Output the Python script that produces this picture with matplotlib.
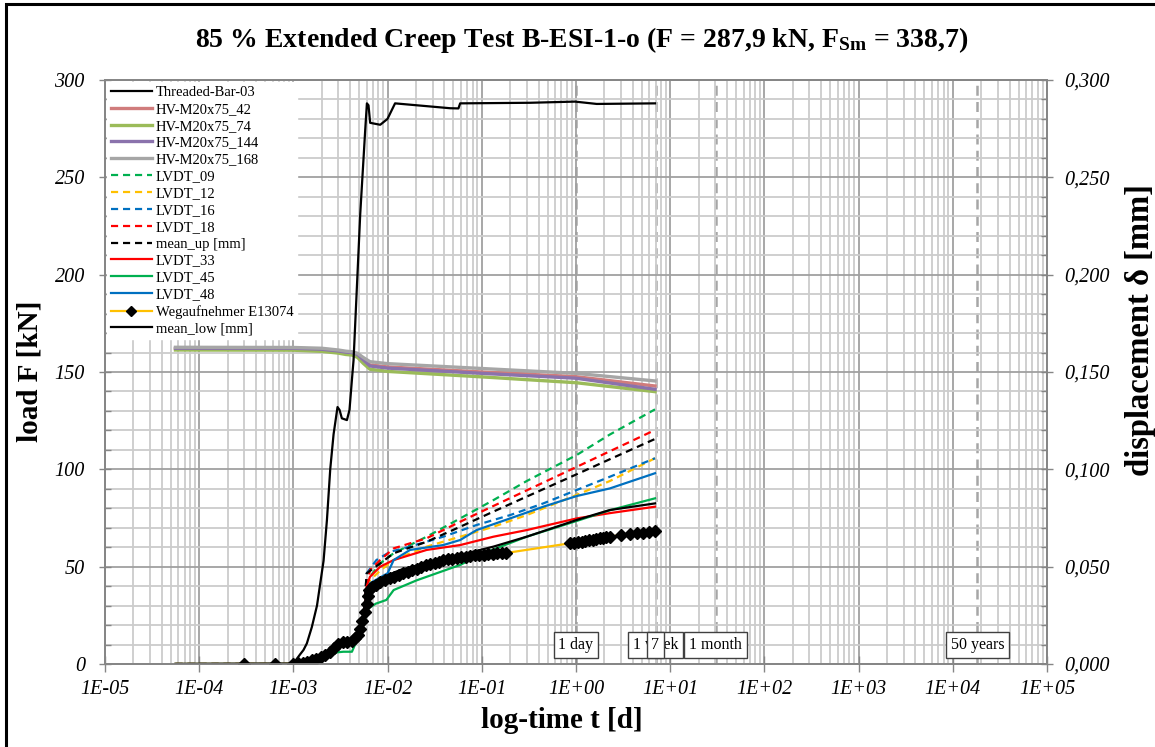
import numpy as np
import matplotlib
matplotlib.use("Agg")
import matplotlib.pyplot as plt
from matplotlib.ticker import FixedLocator, MultipleLocator, FuncFormatter, NullFormatter
from matplotlib.patches import Rectangle

plt.rcParams['font.family'] = ['Liberation Serif', 'DejaVu Serif']
plt.rcParams['mathtext.fontset'] = 'custom'
plt.rcParams['mathtext.rm'] = 'Liberation Serif'
plt.rcParams['mathtext.bf'] = 'Liberation Serif:bold'
plt.rcParams['mathtext.it'] = 'Liberation Serif:italic'

# ---------------- load [kN] ----------------
bar_t = [5.6e-5, 1.0e-3, 1.18e-3, 1.28e-3, 1.39e-3, 1.57e-3, 1.78e-3, 2.09e-3, 2.27e-3,
         2.46e-3, 2.67e-3, 2.94e-3, 3.09e-3, 3.27e-3, 3.70e-3, 3.94e-3, 4.18e-3, 4.35e-3,
         5.12e-3, 5.78e-3, 6.03e-3, 6.27e-3, 6.53e-3, 8.35e-3, 9.97e-3, 1.20e-2, 4.61e-2,
         5.65e-2, 5.89e-2, 0.325, 0.976, 1.66, 6.9]
bar_F = [0.0, 0.3, 5.0, 7.2, 10.6, 19.0, 30.0, 53.0, 74.0, 100.0, 118.0, 132.0, 130.5,
         126.2, 125.3, 130.5, 146.0, 156.0, 231.0, 274.0, 288.0, 287.0, 278.0, 277.0,
         280.0, 288.0, 285.5, 285.4, 288.0, 288.3, 288.9, 287.7, 288.0]

hv_t = [5.6e-5, 1.0e-3, 2.0e-3, 3.0e-3, 3.6e-3, 4.2e-3, 4.8e-3, 5.5e-3, 6.5e-3, 1.0e-2,
        0.1, 1.0, 6.9]
hv_42 = [162.0, 162.0, 161.5, 160.6, 160.0, 159.8, 159.0, 156.5, 153.6, 152.6, 150.0, 147.6, 142.8]
hv_74 = [161.3, 161.2, 160.6, 159.7, 159.0, 158.7, 157.5, 154.5, 151.4, 150.3, 147.5, 144.5, 139.9]
hv_144 = [162.2, 162.2, 161.7, 160.8, 160.2, 160.0, 159.0, 156.3, 153.1, 152.0, 149.3, 146.8, 141.1]
hv_168 = [162.7, 162.6, 162.2, 161.3, 160.7, 160.4, 159.6, 157.5, 155.3, 154.3, 151.8, 149.3, 145.4]

# ---------------- displacement [mm] ----------------
# loading phase shared by the LVDTs
load_t = [5.6e-5, 1.0e-3, 1.4e-3, 1.9e-3, 2.4e-3, 2.9e-3, 3.3e-3, 3.9e-3, 4.4e-3, 5.0e-3, 5.6e-3]
load_d = [0.0, 0.0, 0.0012, 0.0034, 0.0062, 0.0100, 0.0112, 0.0115, 0.0130, 0.0170, 0.0260]

lvdt09_t = [6.0e-3, 6.5e-3, 8.35e-3, 1.16e-2, 2.6e-2, 5.9e-2, 0.133, 0.30, 1.02, 2.29, 6.9]
lvdt09_d = [0.0400, 0.0448, 0.0517, 0.0569, 0.0654, 0.0748, 0.0842, 0.0940, 0.1074, 0.1179, 0.1308]

lvdt12_t = [6.0e-3, 6.5e-3, 8.35e-3, 1.16e-2, 2.6e-2, 5.9e-2, 0.133, 0.30, 1.02, 2.29, 6.9]
lvdt12_d = [0.0380, 0.0430, 0.0480, 0.0534, 0.0603, 0.0654, 0.0705, 0.0765, 0.0869, 0.0940, 0.1057]

lvdt16_t = [6.0e-3, 7.6e-3, 1.07e-2, 1.73e-2, 3.9e-2, 8.8e-2, 0.20, 0.45, 1.02, 2.29, 6.9]
lvdt16_d = [0.0466, 0.0534, 0.0577, 0.0603, 0.0654, 0.0714, 0.0765, 0.0825, 0.0894, 0.0962, 0.1057]

lvdt18_t = [6.0e-3, 6.5e-3, 8.35e-3, 1.16e-2, 2.6e-2, 5.9e-2, 0.133, 0.30, 1.02, 2.29, 6.9]
lvdt18_d = [0.0400, 0.0483, 0.0534, 0.0594, 0.0646, 0.0731, 0.0812, 0.0892, 0.1013, 0.1093, 0.1202]

mean_up_t = [6.0e-3, 8.35e-3, 1.16e-2, 2.6e-2, 5.9e-2, 0.133, 0.30, 1.02, 2.29, 6.9]
mean_up_d = [0.0466, 0.0517, 0.0569, 0.0628, 0.0705, 0.0783, 0.0860, 0.0975, 0.1052, 0.1156]

lvdt33_t = [6.0e-3, 6.5e-3, 8.35e-3, 1.16e-2, 2.6e-2, 5.9e-2, 0.133, 0.30, 1.02, 2.29, 6.9]
lvdt33_d = [0.0400, 0.0448, 0.0500, 0.0534, 0.0586, 0.0611, 0.0654, 0.0688, 0.0748, 0.0775, 0.0808]

lvdt45_t = [5.6e-5, 1.0e-3, 1.4e-3, 1.9e-3, 2.4e-3, 2.9e-3, 3.4e-3, 4.18e-3, 5.1e-3, 6.27e-3,
            7.5e-3, 9.7e-3, 1.16e-2, 2.04e-2, 5.9e-2, 0.104, 0.30, 1.02, 2.29, 6.9]
lvdt45_d = [0.0, 0.0, 0.0008, 0.0025, 0.0045, 0.0060, 0.0063, 0.0063, 0.0158, 0.0286,
            0.0310, 0.0329, 0.0380, 0.0430, 0.0509, 0.0569, 0.0654, 0.0735, 0.0790, 0.0851]

lvdt48_t = [6.0e-3, 6.5e-3, 1.0e-2, 1.16e-2, 1.73e-2, 3.9e-2, 5.9e-2, 8.8e-2, 0.20, 0.45,
            1.02, 2.29, 6.9]
lvdt48_d = [0.0360, 0.0415, 0.0466, 0.0534, 0.0586, 0.0611, 0.0637, 0.0688, 0.0748, 0.0808,
            0.0863, 0.0902, 0.0980]

weg_t = [5.6e-5, 3.0e-4, 6.4e-4,
         1.00e-3, 1.12e-3, 1.25e-3, 1.40e-3, 1.56e-3, 1.74e-3, 1.94e-3, 2.17e-3, 2.42e-3,
         2.70e-3, 3.01e-3, 3.36e-3, 3.75e-3, 4.18e-3, 4.50e-3, 4.80e-3, 5.10e-3, 5.40e-3,
         5.70e-3, 6.00e-3, 6.20e-3, 6.40e-3, 6.80e-3, 7.50e-3, 8.40e-3, 9.40e-3, 1.05e-2,
         1.17e-2, 1.31e-2, 1.46e-2, 1.63e-2, 1.82e-2, 2.03e-2, 2.27e-2, 2.53e-2, 2.82e-2,
         3.15e-2, 3.51e-2, 3.92e-2, 4.37e-2, 4.88e-2, 5.44e-2, 6.07e-2, 6.77e-2, 7.56e-2,
         8.43e-2, 9.41e-2, 0.105, 0.117, 0.131, 0.146, 0.163, 0.180,
         0.86, 0.95, 1.05, 1.15, 1.26, 1.38, 1.50, 1.65, 1.80, 1.95, 2.10, 2.29,
         3.0, 3.7, 4.4, 5.2, 6.0, 6.9]
weg_d = [0.0, 0.0, 0.0,
         0.0, 0.0003, 0.0007, 0.0012, 0.0018, 0.0026, 0.0036, 0.0048, 0.0063,
         0.0083, 0.0104, 0.0112, 0.0113, 0.0120, 0.0133, 0.0150, 0.0180, 0.0220,
         0.0265, 0.0310, 0.0350, 0.0380, 0.0395, 0.0408, 0.0420, 0.0430, 0.0440,
         0.0449, 0.0458, 0.0466, 0.0474, 0.0482, 0.0490, 0.0498, 0.0506, 0.0513,
         0.0520, 0.0526, 0.0532, 0.0537, 0.0541, 0.0545, 0.0549, 0.0552, 0.0555,
         0.0558, 0.0560, 0.0562, 0.0564, 0.0566, 0.0568, 0.0569, 0.0570,
         0.0620, 0.0623, 0.0626, 0.0629, 0.0632, 0.0635, 0.0638, 0.0641, 0.0645, 0.0648, 0.0651, 0.0654,
         0.0663, 0.0668, 0.0671, 0.0674, 0.0679, 0.0682]

mean_low_t = [6.0e-3, 6.5e-3, 8.35e-3, 1.36e-2, 2.6e-2, 5.9e-2, 0.133, 0.30, 1.02, 2.29, 6.9]
mean_low_d = [0.0380, 0.0410, 0.0440, 0.0483, 0.0520, 0.0560, 0.0603, 0.0654, 0.0740, 0.0791, 0.0825]

# time marks [d]
mark_t = [1.0, 7.0, 30.4, 18262.5]
mark_labels = [(1.0, "1 day"), (7.0, "1 week"), (6.97, "7"), (30.4, "1 month"), (18262.5, "50 years")]

# axis ticks
decades = [1e-5, 1e-4, 1e-3, 1e-2, 1e-1, 1e0, 1e1, 1e2, 1e3, 1e4, 1e5]
decade_subs = [m * d for d in decades[:-1] for m in range(2, 10)]

# ---------------- figure ----------------
fig = plt.figure(figsize=(11.55, 7.47), dpi=100)
ax = fig.add_axes([105 / 1155, 1 - 664 / 747, (1047 - 105) / 1155, (664 - 80) / 747])
ax2 = ax.twinx()

axis_grey = '#868686'
ax.set_xscale('log')
ax.set_xlim(1e-5, 1e5)
ax.set_ylim(0, 300)
ax2.set_ylim(0, 0.3)

ax.xaxis.set_major_locator(FixedLocator(decades))
ax.xaxis.set_minor_locator(FixedLocator(decade_subs))
ax.xaxis.set_minor_formatter(NullFormatter())
ax.xaxis.set_major_formatter(FuncFormatter(lambda v, p: "1E{:+03d}".format(int(round(np.log10(v))))))
ax.yaxis.set_major_locator(MultipleLocator(50))
ax.yaxis.set_minor_locator(MultipleLocator(10))
ax.yaxis.set_major_formatter(FuncFormatter(lambda v, p: "{:d}".format(int(round(v)))))
ax2.yaxis.set_major_locator(MultipleLocator(0.05))
ax2.yaxis.set_minor_locator(MultipleLocator(0.01))
ax2.yaxis.set_major_formatter(FuncFormatter(lambda v, p: "{:.3f}".format(v).replace('.', ',')))

ax.grid(which='minor', color='#CCCCCC', lw=1.3, zorder=0)
ax.grid(which='major', color='#A0A0A0', lw=1.3, zorder=0)
ax.set_axisbelow(True)

for a in (ax, ax2):
    for s in a.spines.values():
        s.set_color(axis_grey)
        s.set_linewidth(1.3)

ax.tick_params(axis='y', which='major', direction='inout', length=9, width=1, color=axis_grey, pad=10)
ax.tick_params(axis='y', which='minor', direction='in', length=4, width=1, color=axis_grey)
ax.tick_params(axis='x', which='major', direction='inout', length=11, width=1, color=axis_grey, pad=6)
ax.tick_params(axis='x', which='minor', length=0)
ax2.tick_params(axis='y', which='major', direction='inout', length=9, width=1, color=axis_grey, pad=8)
ax2.tick_params(axis='y', which='minor', direction='in', length=4, width=1, color=axis_grey)
for lab in ax.get_xticklabels() + ax.get_yticklabels() + ax2.get_yticklabels():
    lab.set_fontsize(14.5)
    lab.set_fontstyle('italic')

# time marks
for t in mark_t:
    ax.axvline(t, color='#A6A6A6', lw=1.8, ls=(0, (4, 2.5)), zorder=0.5)

# load curves
h_bar, = ax.plot(bar_t, bar_F, color='black', lw=1.6, label='Threaded-Bar-03', zorder=3)
h42, = ax.plot(hv_t, hv_42, color='#D07C7C', lw=2.4, label='HV-M20x75_42', zorder=2)
h74, = ax.plot(hv_t, hv_74, color='#9BBB59', lw=2.4, label='HV-M20x75_74', zorder=2)
h144, = ax.plot(hv_t, hv_144, color='#8A72AC', lw=2.4, label='HV-M20x75_144', zorder=2)
h168, = ax.plot(hv_t, hv_168, color='#A6A6A6', lw=2.4, label='HV-M20x75_168', zorder=2)

# displacement curves
dash = (0, (3.2, 2.2))


def with_loading(t, d):
    return load_t + list(t), load_d + list(d)


h09, = ax2.plot(*with_loading(lvdt09_t, lvdt09_d), color='#00B050', lw=1.6, ls=dash, label='LVDT_09')
h12, = ax2.plot(*with_loading(lvdt12_t, lvdt12_d), color='#FFC000', lw=1.6, ls=dash, label='LVDT_12')
h16, = ax2.plot(*with_loading(lvdt16_t, lvdt16_d), color='#0070C0', lw=1.6, ls=dash, label='LVDT_16')
h18, = ax2.plot(*with_loading(lvdt18_t, lvdt18_d), color='#FF0000', lw=1.6, ls=dash, label='LVDT_18')
hmu, = ax2.plot(*with_loading(mean_up_t, mean_up_d), color='black', lw=1.6, ls=dash, label='mean_up [mm]')
h33, = ax2.plot(*with_loading(lvdt33_t, lvdt33_d), color='#FF0000', lw=1.6, label='LVDT_33')
h45, = ax2.plot(lvdt45_t, lvdt45_d, color='#00B050', lw=1.6, label='LVDT_45')
h48, = ax2.plot(*with_loading(lvdt48_t, lvdt48_d), color='#0070C0', lw=1.6, label='LVDT_48')
hweg, = ax2.plot(weg_t, weg_d, color='#FFC000', lw=1.6, marker='D', markersize=6.5,
                 markerfacecolor='black', markeredgecolor='black', markevery=slice(1, None),
                 label='Wegaufnehmer E13074')
hml, = ax2.plot(*with_loading(mean_low_t, mean_low_d), color='black', lw=1.6, label='mean_low [mm]')

# time mark labels
for t, txt in mark_labels:
    ax2.text(t, 0.0098, txt, ha='center', va='center', fontsize=11.5, zorder=6,
             bbox=dict(boxstyle='square,pad=0.3', fc='white', ec='#404040', lw=1.0))

handles = [h_bar, h42, h74, h144, h168, h09, h12, h16, h18, hmu, h33, h45, h48, hweg, hml]
leg = ax2.legend(handles=handles, loc='upper left', bbox_to_anchor=(0.0, 1.0),
                 fontsize=10.5, frameon=True, fancybox=False, framealpha=1,
                 edgecolor='white', facecolor='white', handlelength=2.8,
                 labelspacing=0.25, borderaxespad=0.15, borderpad=0.25, handletextpad=0.3)
leg.set_zorder(10)
for lh in leg.legend_handles:
    if lh.get_marker() == 'D':
        lh.set_markersize(5.5)

# labels and title
fig.text(30 / 1155, 1 - 371 / 747, 'load F [kN]', rotation=90, ha='center', va='center',
         fontsize=21, fontweight='bold')
fig.text(1141 / 1155, 1 - 330 / 747, 'displacement δ [mm]', rotation=90, ha='center', va='center',
         fontsize=23.5, fontweight='bold')
fig.text(562 / 1155, 1 - 721 / 747, 'log-time t [d]', ha='center', va='center',
         fontsize=21, fontweight='bold')
fig.text(582 / 1155, 1 - 40 / 747,
         r'85 % Extended Creep Test B-ESI-1-o (F = 287,9 kN, F$_{\mathbf{Sm}}$ = 338,7)',
         ha='center', va='center', fontsize=20, fontweight='bold')

# chart border
fig.patches.append(Rectangle((6 / 1155, -0.05), 1.2, 1.05 - 4 / 747, transform=fig.transFigure,
                             fill=False, ec='black', lw=2.2))

fig.savefig('out.png', dpi=100)
